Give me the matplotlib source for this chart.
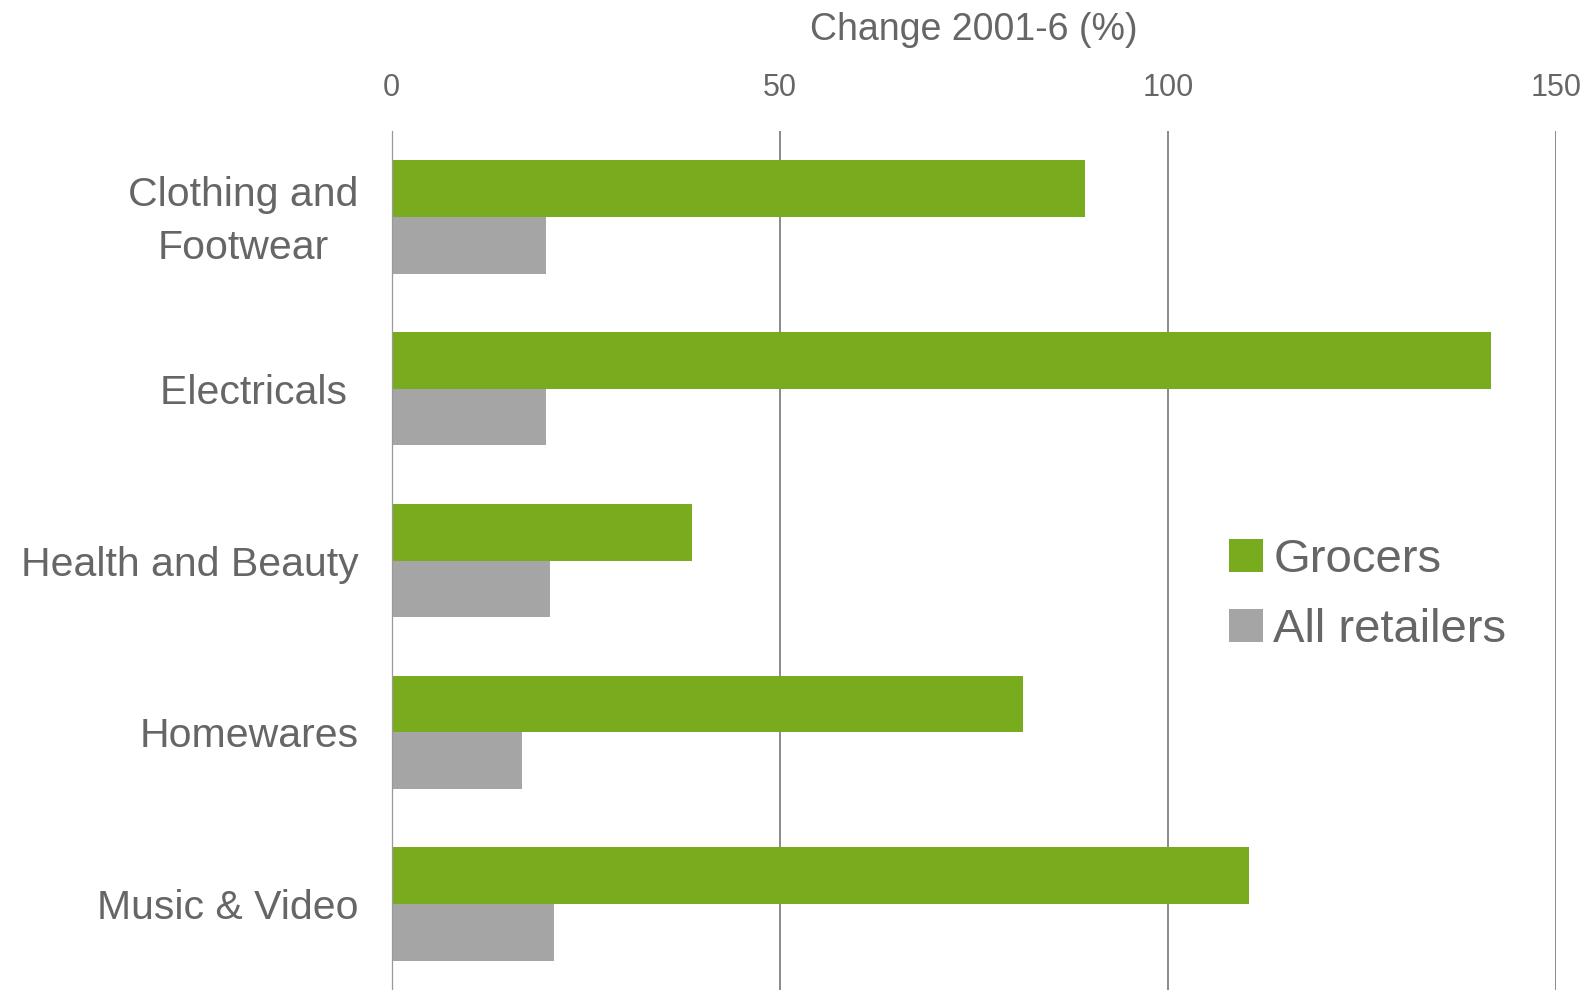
import numpy as np
import matplotlib.pyplot as plt
import matplotlib.transforms as mtransforms

plt.rcParams['font.family'] = ['Liberation Sans', 'DejaVu Sans']

# retail sales growth by category, 2001-6
categories = ['Clothing and\nFootwear', 'Electricals ', 'Health and Beauty', 'Homewares', 'Music & Video']
grocers = [89.3, 141.6, 38.7, 81.3, 110.4]
all_retailers = [19.9, 19.9, 20.4, 16.8, 20.9]
xticks = [0, 50, 100, 150]

green = '#78ab1e'
grey = '#a5a5a5'
txt = '#666666'

fig = plt.figure(figsize=(15.94, 9.90), dpi=100)
ax = fig.add_axes([391.7/1594, 0.0, (1556.5-391.7)/1594, 1 - 131/990])

y = np.arange(len(categories))
h = 0.33
ax.barh(y - h/2, grocers, height=h, color=green, label='Grocers', zorder=3)
ax.barh(y + h/2, all_retailers, height=h, color=grey, label='All retailers', zorder=3)

ax.set_xlim(0, 150)
ax.set_ylim(len(categories) - 0.5, -0.5)
ax.set_xticks(xticks)
ax.set_yticks(y)
ax.set_yticklabels(categories, multialignment='center', linespacing=1.5)

ax.xaxis.tick_top()
ax.xaxis.set_label_position('top')
ax.tick_params(axis='x', length=0, labelsize=22, colors=txt, pad=20)
ax.tick_params(axis='y', length=0, labelsize=29.5, colors=txt, pad=24)
ax.set_xlabel('Change 2001-6 (%)', fontsize=27, color=txt, labelpad=24)

# nudge the two-line label up a bit
lab = ax.get_yticklabels()[0]
lab.set_transform(lab.get_transform() + mtransforms.ScaledTranslation(0, 5/72, fig.dpi_scale_trans))

# vertical gridlines
for v in xticks[1:]:
    ax.axvline(v, color='#6b6b6b', lw=1.1, zorder=1)
for s in ['top', 'right', 'bottom']:
    ax.spines[s].set_visible(False)
ax.spines['left'].set_color('#999999')
ax.spines['left'].set_linewidth(0.9)
ax.spines['left'].set_zorder(4)

leg = ax.legend(loc='upper left', bbox_to_anchor=(1229/1594, 1 - 538/990),
                bbox_transform=fig.transFigure, frameon=False, fontsize=34,
                handlelength=0.72, handleheight=0.72, handletextpad=0.22,
                labelspacing=0.55, borderpad=0, borderaxespad=0)
for t in leg.get_texts():
    t.set_color(txt)

fig.savefig('out.png', dpi=100)
